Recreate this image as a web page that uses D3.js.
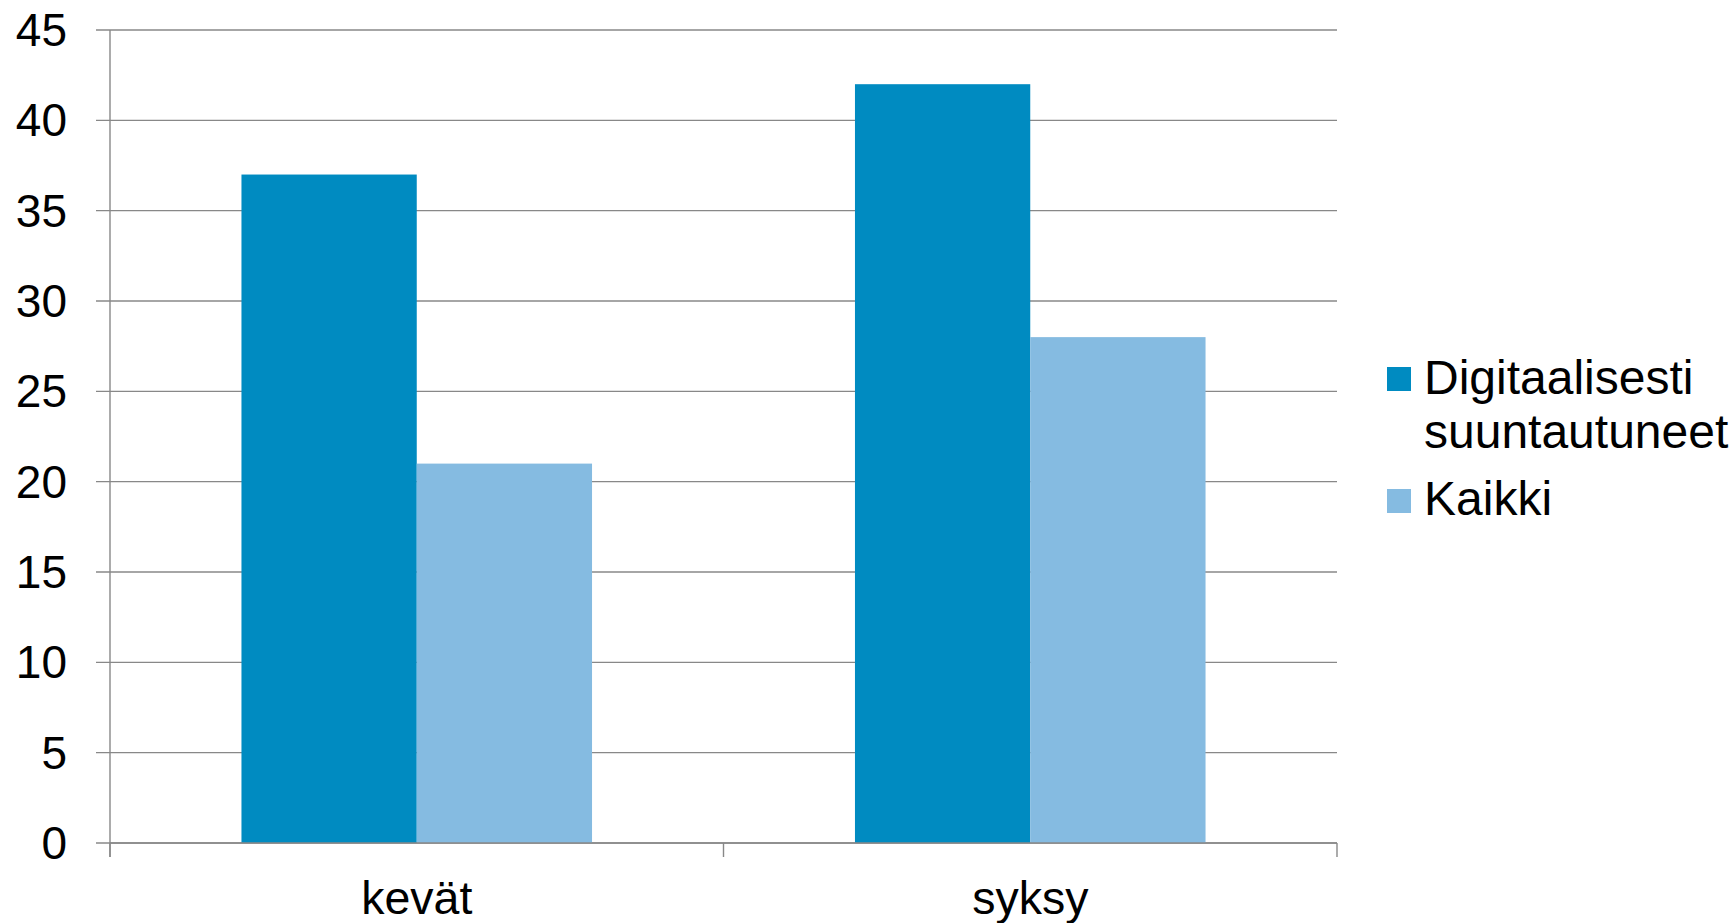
<!DOCTYPE html>
<html><head><meta charset="utf-8">
<script src="https://cdn.jsdelivr.net/npm/d3@7"></script>
<style>html,body{margin:0;padding:0;background:#fff;}svg{display:block;font-family:"Liberation Sans",Arial,sans-serif;}</style>
</head><body>
<svg id="c" width="1733" height="923"></svg>
<script>
const categories = ["kevät", "syksy"];
const seriesNames = ["Digitaalisesti suuntautuneet", "Kaikki"];
const digitaalisesti = [37, 42];
const kaikki = [21, 28];
const yTicks = [0, 5, 10, 15, 20, 25, 30, 35, 40, 45];
const colors = ["#008BC1", "#85BBE1"];

const svg = d3.select("#c");
const L = 110, R = 1337, T = 30, B = 843;
const x = d3.scaleBand().domain(categories).range([L, R]).paddingInner(0).paddingOuter(0);
const y = d3.scaleLinear().domain([0, 45]).range([B, T]);
const barW = x.bandwidth() / 3.5;
const gapW = barW * 0.75;
const gridColor = "#888888";

// gridlines
svg.append("g").selectAll("line").data(yTicks).join("line")
  .attr("x1", L - 14).attr("x2", R)
  .attr("y1", d => y(d)).attr("y2", d => y(d))
  .attr("stroke", gridColor).attr("stroke-width", 1.4);

// y labels
svg.append("g").selectAll("text").data(yTicks).join("text")
  .attr("x", 67).attr("y", d => y(d)).attr("dy", "0.35em")
  .attr("text-anchor", "end").attr("font-size", 46).attr("fill", "#000")
  .text(d => d);

// bars
const data = categories.map((c, i) => ({c, vals: [digitaalisesti[i], kaikki[i]]}));
const g = svg.append("g");
data.forEach(d => {
  d.vals.forEach((v, j) => {
    g.append("rect")
      .attr("x", x(d.c) + gapW + j * barW)
      .attr("y", y(v))
      .attr("width", barW)
      .attr("height", y(0) - y(v))
      .attr("fill", colors[j]);
  });
});

// axes lines
svg.append("line").attr("x1", L).attr("x2", L).attr("y1", T).attr("y2", B + 14)
  .attr("stroke", gridColor).attr("stroke-width", 1.4);
svg.append("line").attr("x1", L).attr("x2", R).attr("y1", B).attr("y2", B)
  .attr("stroke", gridColor).attr("stroke-width", 1.4);
const xTickPos = categories.map(c => x(c)).concat([x(categories[categories.length-1]) + x.bandwidth()]);
svg.append("g").selectAll("line").data(xTickPos).join("line")
  .attr("x1", d => d).attr("x2", d => d).attr("y1", B).attr("y2", B + 14)
  .attr("stroke", gridColor).attr("stroke-width", 1.4);

// x labels
svg.append("g").selectAll("text").data(categories).join("text")
  .attr("x", d => x(d) + x.bandwidth() / 2).attr("y", 914)
  .attr("text-anchor", "middle").attr("font-size", 46.5).attr("fill", "#000")
  .text(d => d);

// legend
const leg = svg.append("g");
leg.append("rect").attr("x", 1387).attr("y", 367).attr("width", 24).attr("height", 24).attr("fill", colors[0]);
leg.append("text").attr("x", 1424).attr("y", 394).attr("font-size", 48).text("Digitaalisesti");
leg.append("text").attr("x", 1424).attr("y", 448).attr("font-size", 48).text("suuntautuneet");
leg.append("rect").attr("x", 1387).attr("y", 489).attr("width", 24).attr("height", 24).attr("fill", colors[1]);
leg.append("text").attr("x", 1424).attr("y", 515).attr("font-size", 48).text(seriesNames[1]);
</script>
</body></html>
